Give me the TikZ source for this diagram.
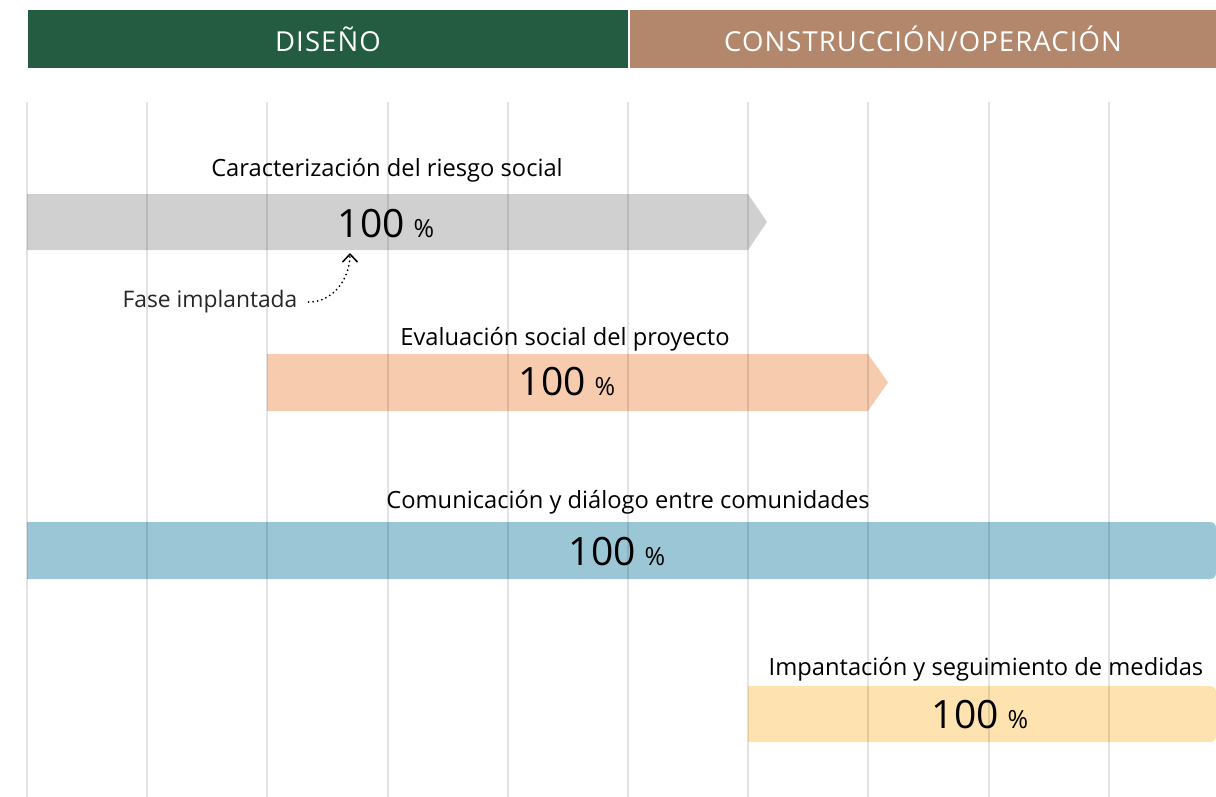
\documentclass[tikz,border=0pt]{standalone}
\usepackage{fontspec}
\setmainfont{Open Sans}
\newfontfamily\headfont[LetterSpace=4]{Open Sans}
\usepackage{xcolor}
\usetikzlibrary{arrows.meta, positioning}
\definecolor{phasegreen}{HTML}{235C41}
\definecolor{phasebrown}{HTML}{B3876B}
\definecolor{bargray}{HTML}{D0D0D0}
\definecolor{barorange}{HTML}{F7CBAD}
\definecolor{barblue}{HTML}{9AC6D5}
\definecolor{baryellow}{HTML}{FEE3B0}
\tikzset{
  phasebox/.style={rectangle, inner sep=0pt, minimum height=58, text=white,
                   font=\headfont\fontsize{27.5}{32}\selectfont},
  gridline/.style={draw=black, line width=2pt, opacity=0.11},
  barlabel/.style={inner sep=0pt, anchor=base, font=\fontsize{23.7}{28}\selectfont},
  pctlabel/.style={inner sep=0pt, anchor=base},
  note/.style={inner sep=0pt, anchor=base, text=black!85,
               font=\fontsize{22.8}{27}\selectfont},
}
\newcommand{\pcttext}{{\fontsize{39}{46}\selectfont 100}\hspace{9pt}{\fontsize{25}{30}\selectfont\%}}

\begin{document}
\begin{tikzpicture}[x=1pt, y=-1pt]
  \useasboundingbox (0,0) rectangle (1216,797);

  % phase headers
  \node[phasebox, fill=phasegreen, minimum width=600] (dis) at (328,39) {DISEÑO};
  \node[phasebox, fill=phasebrown, minimum width=586] (con) at (923,39) {CONSTRUCCIÓN/OPERACIÓN};

  % bars
  \fill[bargray]   (27,194) -- (748,194) -- (767,222) -- (748,250) -- (27,250) -- cycle;
  \fill[barorange] (267,354) -- (868,354) -- (888,382.5) -- (868,411) -- (267,411) -- cycle;
  \fill[barblue]   (27,522) -- (1210,522) arc[start angle=-90, end angle=0, radius=6]
                   -- (1216,573) arc[start angle=0, end angle=90, radius=6] -- (27,579) -- cycle;
  \fill[baryellow] (748,686) -- (1210,686) arc[start angle=-90, end angle=0, radius=6]
                   -- (1216,736) arc[start angle=0, end angle=90, radius=6] -- (748,742) -- cycle;

  % time grid
  \foreach \i in {0,...,9}
    \draw[gridline] (27+120.2*\i,102) -- (27+120.2*\i,797);

  % activity labels
  \node[barlabel] (riesgo) at (387,176) {Caracterización del riesgo social};
  \node[pctlabel] (riesgopct) at (386,237) {\pcttext};
  \node[barlabel] (evaluacion) at (565,345) {Evaluación social del proyecto};
  \node[pctlabel] (evaluacionpct) at (567,395) {\pcttext};
  \node[barlabel] (dialogo) at (628,508) {Comunicación y diálogo entre comunidades};
  \node[pctlabel] (dialogopct) at (617,565) {\pcttext};
  \node[barlabel] (medidas) at (986,675) {Impantación y seguimiento de medidas};
  \node[pctlabel] (medidaspct) at (980,728) {\pcttext};

  % annotation
  \node[note] (fase) at (210,307) {Fase implantada};
  \coordinate (fasetip) at (350,253);
  \draw[line width=2pt, line cap=round, dash pattern=on 0pt off 4.5pt,
        -{Straight Barb[length=8pt, width=15pt, line width=1.5pt]}]
    ([xshift=11pt, yshift=-1pt]fase.east) to[out=0, in=-90] (fasetip);
\end{tikzpicture}
\end{document}
